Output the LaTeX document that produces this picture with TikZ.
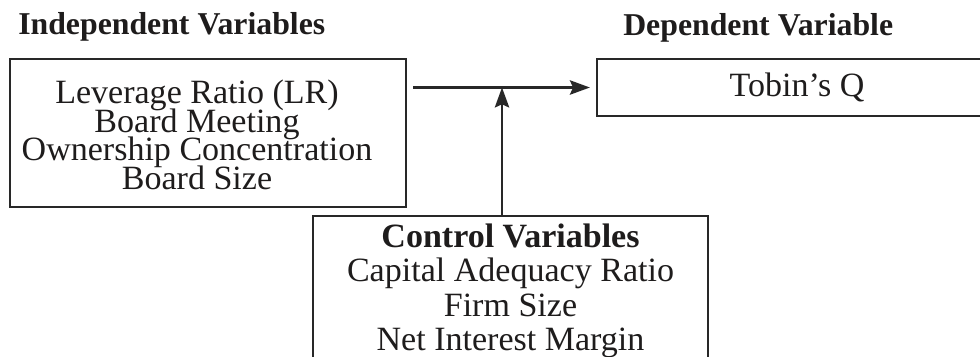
\documentclass[tikz,border=0pt]{standalone}
\usepackage{fontspec}
\setmainfont{Liberation Serif}
\usetikzlibrary{arrows.meta,calc}
\definecolor{mucden}{RGB}{30,28,28}
\definecolor{duongke}{RGB}{40,40,40}
\newcommand{\chuhop}[1]{\fontsize{24.2}{#1}\selectfont\lineskiplimit=-50pt\relax}
\tikzset{
	hop/.style={draw=duongke,line width=1.5pt,align=center,inner sep=0pt,font=\chuhop{20.3}},
	chu/.style={align=center,inner sep=0pt,font=\chuhop{20.3}},
	tieude/.style={anchor=base west,inner sep=0pt,font=\fontsize{22.6}{24}\selectfont\bfseries},
	muiten/.style={draw=duongke,line width=1.5pt,-{Stealth[length=0.5cm,width=0.36cm,inset=0.08cm]}}
}
\begin{document}
\begin{tikzpicture}[mucden,x=0.025cm,y=-0.025cm]
			\useasboundingbox (0,0) rectangle (980,356);
			\node[tieude] (tdoc) at (18,34) {Independent Variables};
			\node[tieude] (tphu) at (623,35) {Dependent Variable};
			\node[hop,minimum width=9.9cm,minimum height=3.7cm] (docl) at (208,133) {};
			\node[chu] (docl-chu) at (197,135) {Leverage Ratio (LR)\\Board Meeting\\Ownership Concentration\\Board Size};
			\node[hop,minimum width=10cm,minimum height=1.425cm] (phuth) at (797,87.5) {Tobin's Q};
			\node[hop,minimum width=9.875cm,minimum height=3.75cm,font=\chuhop{24.5}] (kiems) at (510.5,291) {\textbf{Control Variables}\\Capital Adequacy Ratio\\Firm Size\\Net Interest Margin};
			\coordinate (giao) at (502,87.5);
			\draw[muiten,shorten <=0.15cm,shorten >=0.15cm] (phuth.west -| docl.east) -- (phuth.west);
			\draw[muiten] (giao |- kiems.north) -- (giao);
		\end{tikzpicture}
\end{document}
